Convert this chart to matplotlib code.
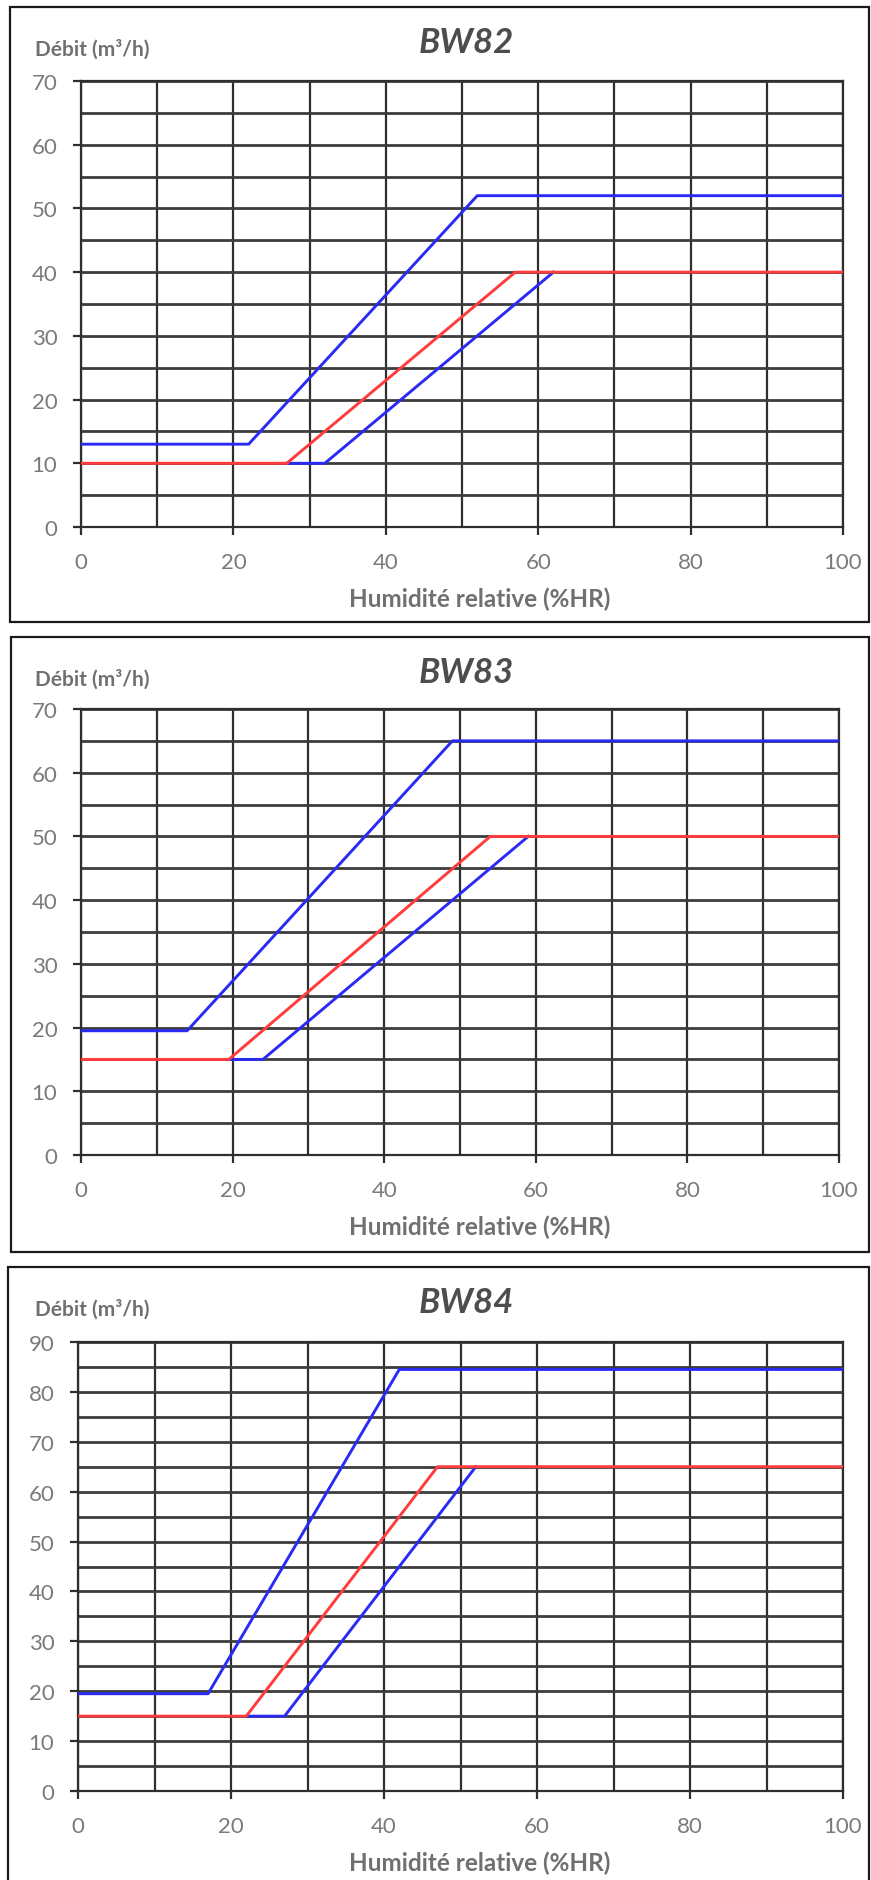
import numpy as np
import matplotlib.pyplot as plt
from matplotlib.patches import Rectangle

plt.rcParams['font.family'] = ['Lato', 'DejaVu Sans']

W, H = 871, 1881

titles = ['BW82', 'BW83', 'BW84']
y_max = [70, 70, 90]

# courbe haute (bleu)
hr_upper = [[0, 22, 52, 100], [0, 14, 49, 100], [0, 17, 42, 100]]
q_upper = [[13, 13, 52, 52], [19.5, 19.5, 65, 65], [19.5, 19.5, 84.5, 84.5]]
# courbe nominale (rouge)
hr_ref = [[0, 27, 57, 100], [0, 19.5, 54, 100], [0, 22, 47, 100]]
q_ref = [[10, 10, 40, 40], [15, 15, 50, 50], [15, 15, 65, 65]]
# courbe basse (bleu)
hr_lower = [[27, 32, 62], [19.5, 24, 59], [22, 27, 52]]
q_lower = [[10, 10, 40], [15, 15, 50], [15, 15, 65]]

x_ticks = [0, 20, 40, 60, 80, 100]

# layout in pixels
ax_top = [82, 710, 1343]
ax_bot = [528, 1156, 1792]
ax_left = [81, 81, 78]
ax_right = [843, 839, 843]
box_top = [8, 638, 1268]
box_bot = [623, 1253, 1900]
box_left = [10, 11, 8]

fig = plt.figure(figsize=(W / 100, H / 100), dpi=100)

def fx(x):
    return x / W

def fy(y):
    return 1 - y / H

blue = '#2a2af5'
red = '#ff3b3b'
grid_c = '#2e2e2e'
txt_c = '#707070'

for i in range(3):
    # cadre du graphique
    fig.add_artist(Rectangle((fx(box_left[i]), fy(box_bot[i])),
                             fx(869 - box_left[i]), (box_bot[i] - box_top[i]) / H,
                             fill=False, edgecolor='#1a1a1a', linewidth=1.6))

    ax = fig.add_axes([fx(ax_left[i]), fy(ax_bot[i]),
                       fx(ax_right[i] - ax_left[i]), (ax_bot[i] - ax_top[i]) / H])
    ax.set_xlim(0, 100)
    ax.set_ylim(0, y_max[i])
    ax.set_xticks(x_ticks)
    ax.set_xticks(np.arange(0, 101, 10), minor=True)
    ax.set_yticks(np.arange(0, y_max[i] + 1, 10))
    ax.set_yticks(np.arange(0, y_max[i] + 1, 5), minor=True)
    ax.grid(True, which='both', axis='x', color=grid_c, linewidth=1.6)
    ax.grid(True, which='both', axis='y', color='#3c3c3c', linewidth=2.0)
    ax.set_axisbelow(True)
    for s in ax.spines.values():
        s.set_color(grid_c)
        s.set_linewidth(1.6)
    ax.tick_params(which='major', direction='out', length=6, width=1.6,
                   color=grid_c, labelcolor='#7a7a7a', labelsize=16)
    ax.tick_params(axis='y', which='major', pad=11)
    ax.tick_params(axis='x', which='major', pad=12)
    ax.tick_params(which='minor', length=0)

    ax.plot(hr_lower[i], q_lower[i], color=blue, linewidth=2.1, zorder=3)
    ax.plot(hr_upper[i], q_upper[i], color=blue, linewidth=2.1, zorder=3)
    ax.plot(hr_ref[i], q_ref[i], color=red, linewidth=2.1, zorder=4)

    fig.text(fx(466), fy(box_top[i] + 35), titles[i], ha='center', va='center',
             fontsize=25, fontweight='bold', fontstyle='italic', color='#4d4d4d')
    fig.text(fx(35), fy(box_top[i] + 41), 'Débit (m³/h)', ha='left', va='center',
             fontsize=15, fontweight='bold', color=txt_c)
    fig.text(fx(480), fy(ax_bot[i] + 71), 'Humidité relative (%HR)', ha='center',
             va='center', fontsize=17.5, fontweight='bold', color=txt_c)

fig.savefig('out.png', dpi=100, facecolor='white')
